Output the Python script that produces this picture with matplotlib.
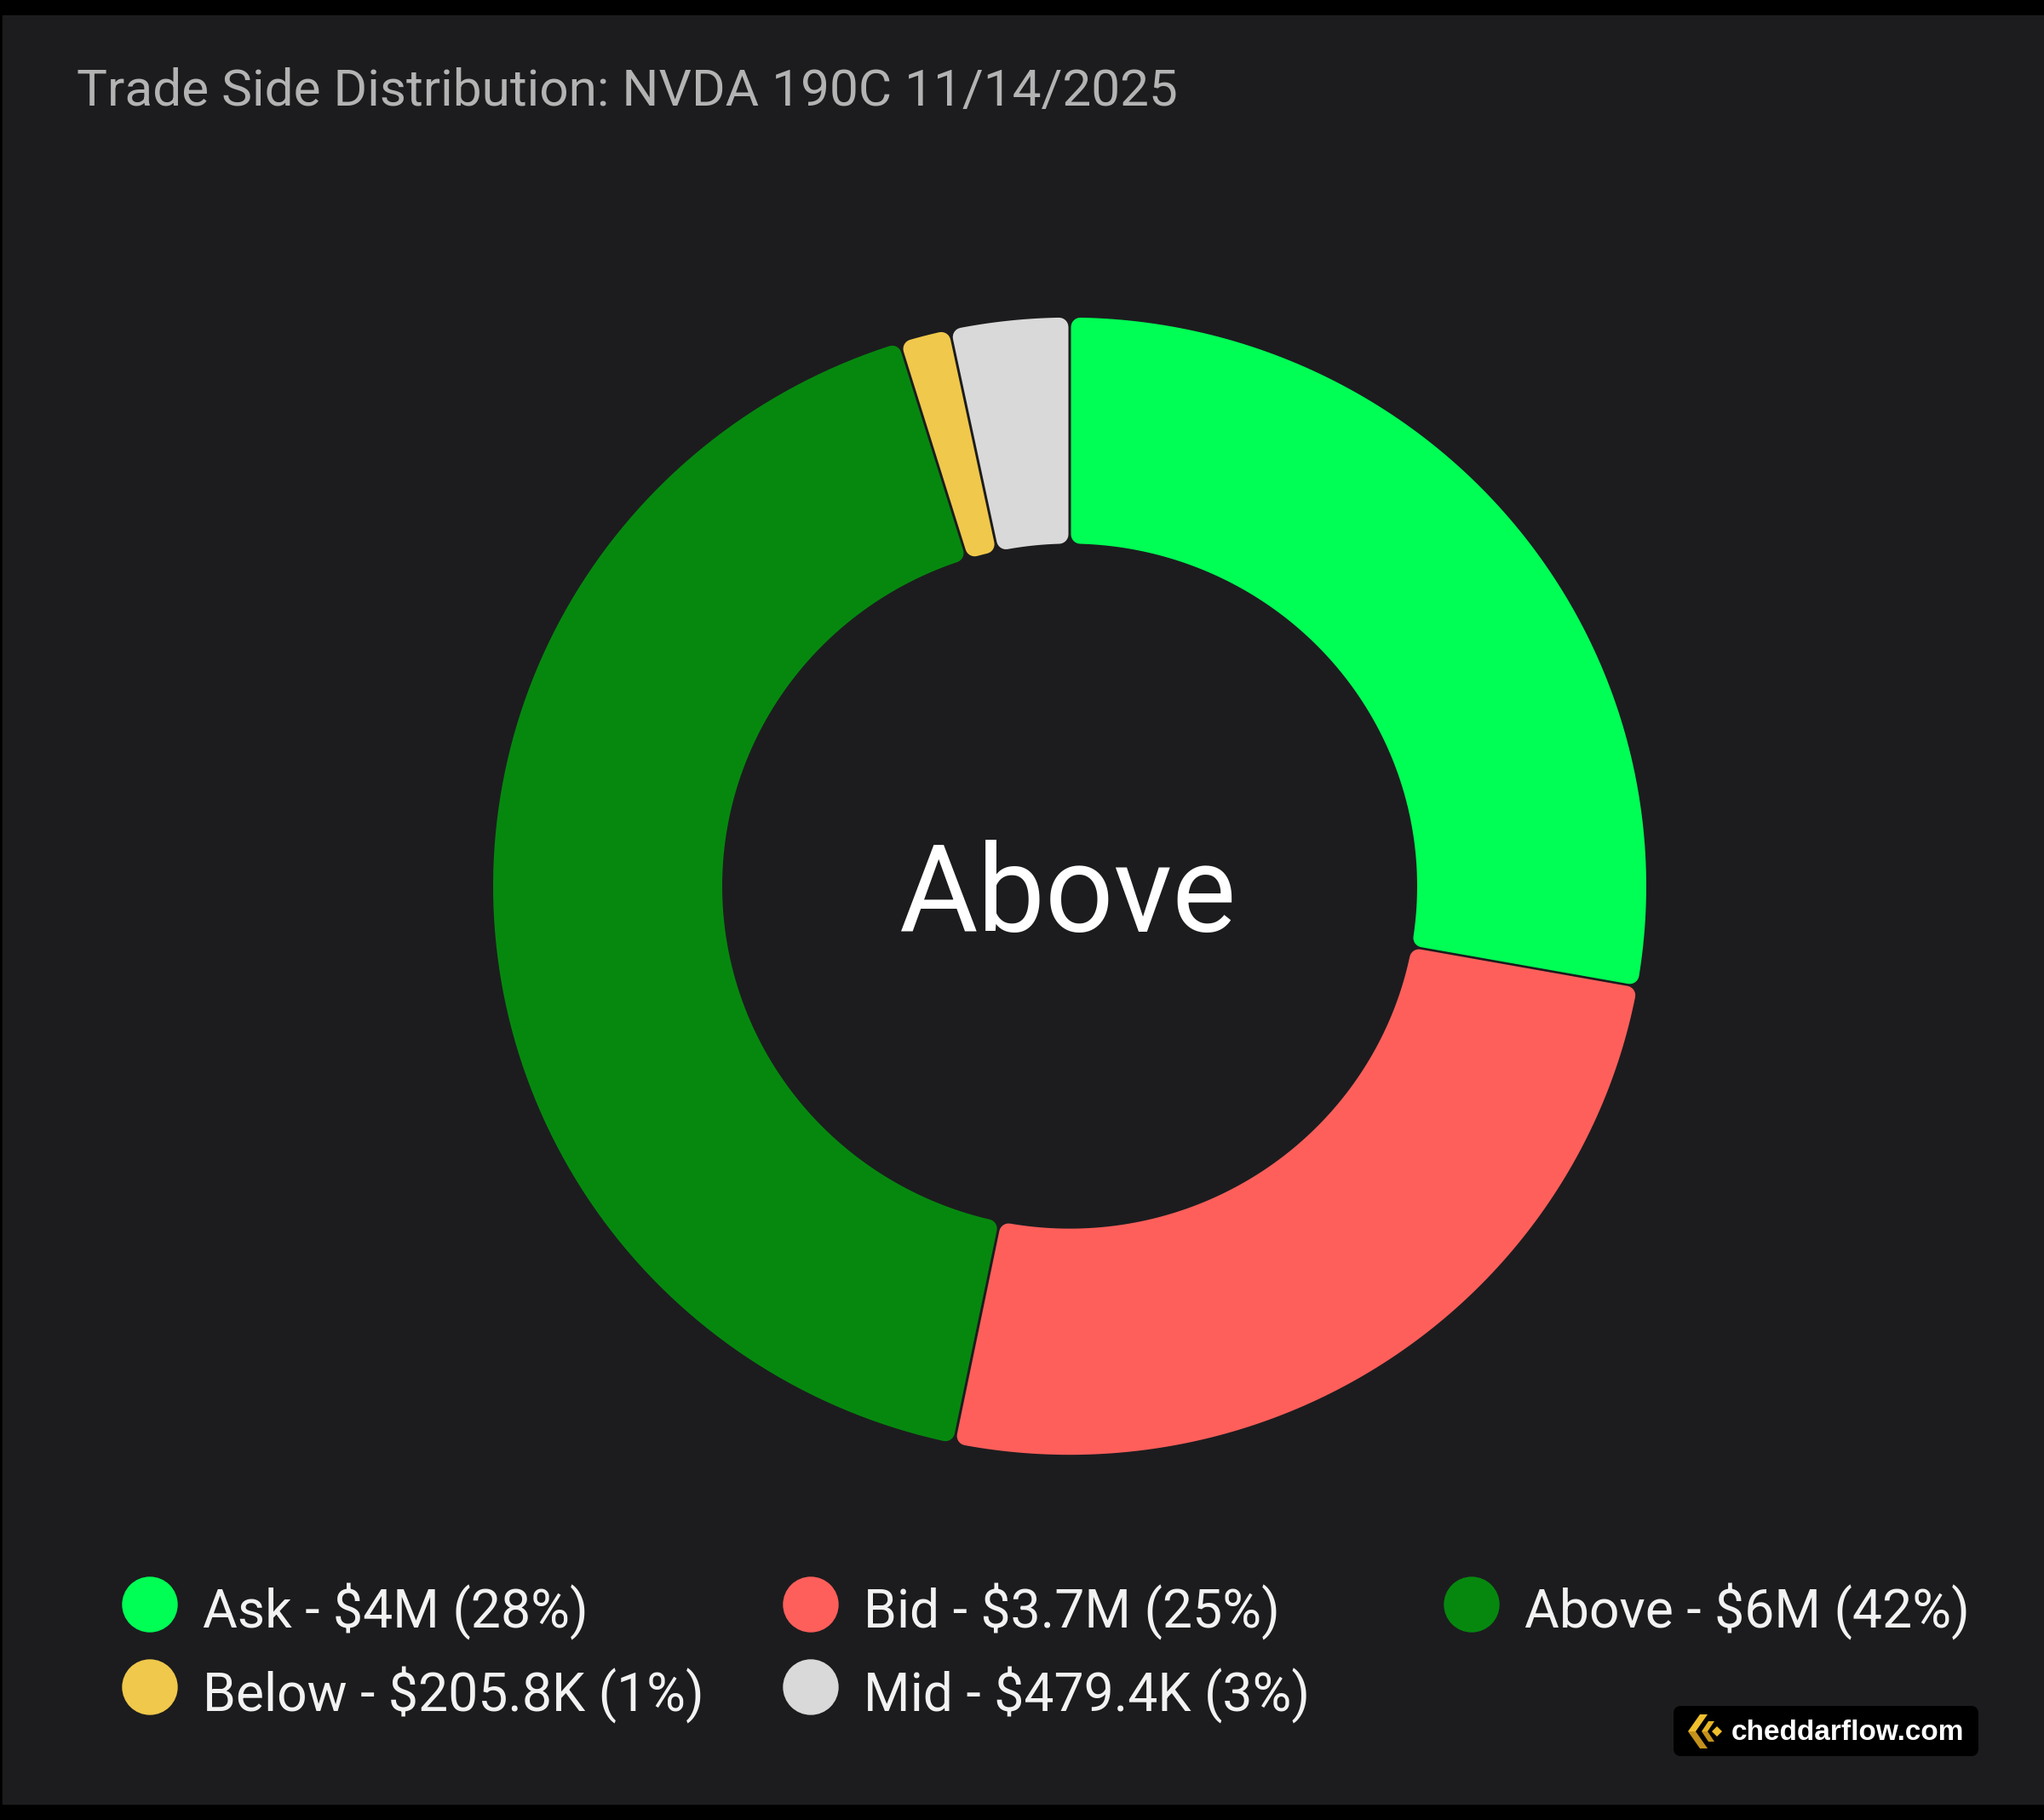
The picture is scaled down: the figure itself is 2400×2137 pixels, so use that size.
import numpy as np
import matplotlib
matplotlib.use('Agg')
import matplotlib.pyplot as plt
from matplotlib import font_manager
from matplotlib.patches import Polygon, Circle, FancyBboxPatch, Rectangle

labels = ['Ask', 'Bid', 'Above', 'Below', 'Mid']
values = [4.0, 3.65, 6.04, 0.2058, 0.4794]   # $M
amounts = ['$4M', '$3.7M', '$6M', '$205.8K', '$479.4K']
pcts = [28, 25, 42, 1, 3]
colors = ['#00ff55', '#ff5f5b', '#06880f', '#f0c84b', '#d9d9d9']
title = 'Trade Side Distribution: NVDA 190C 11/14/2025'
center_label = 'Above'
watermark = 'cheddarflow.com'

W, H = 2400, 2137
BG = '#1c1c1e'

installed = {f.name for f in font_manager.fontManager.ttflist}
if 'Liberation Sans Narrow' in installed:
    narrow, fs_title, fs_leg = 'Liberation Sans Narrow', 50, 50
else:
    narrow, fs_title, fs_leg = 'Roboto', 43.5, 45


def Y(y):
    # image row -> data y
    return H - y


fig = plt.figure(figsize=(W / 100, H / 100), dpi=100, facecolor='black')
ax = fig.add_axes([0, 0, 1, 1])

ax.add_patch(Rectangle((3, Y(2118)), W - 3, 2100, color=BG, zorder=0))

cx, cy = 1256, Y(1040.5)
r_out, r_in = 677, 408
sy = 0.986          # the screenshot is a touch squashed vertically
corner, gap = 11, 3

wedges, _ = ax.pie(values, startangle=90, counterclock=False, center=(cx, cy),
                   radius=r_out, wedgeprops=dict(width=r_out - r_in))


def rounded_segment(t1, t2, color):
    off = corner + gap / 2
    ro, ri = r_out - corner, r_in + corner
    d_o = np.degrees(np.arcsin(off / ro))
    d_i = np.degrees(np.arcsin(off / ri))
    to = np.radians(np.linspace(t1 + d_o, t2 - d_o, 120))
    ti = np.radians(np.linspace(t2 - d_i, t1 + d_i, 120))
    xs = np.concatenate([cx + ro * np.cos(to), cx + ri * np.cos(ti)])
    ys = np.concatenate([cy + sy * ro * np.sin(to), cy + sy * ri * np.sin(ti)])
    return Polygon(np.column_stack([xs, ys]), closed=True, fc=color, ec=color,
                   lw=2 * corner * 0.72, joinstyle='round', zorder=2)


for w, c in zip(wedges, colors):
    w.set_visible(False)
    ax.add_patch(rounded_segment(w.theta1, w.theta2, c))

ax.set_xlim(0, W)
ax.set_ylim(0, H)
ax.set_aspect('auto')
ax.axis('off')

ax.text(1254, Y(1094), center_label, ha='center', va='baseline', color='white',
        fontsize=102, family='Roboto')

ax.text(90, Y(124), title, ha='left', va='baseline', color='#b3b3b3',
        fontsize=fs_title, family=narrow)

# legend
leg_cols = [176, 952, 1728]
leg_rows = [1884, 1981]
base_off = 28
for i, (lab, amt, p, c) in enumerate(zip(labels, amounts, pcts, colors)):
    row, col = divmod(i, 3)
    x, y = leg_cols[col], leg_rows[row]
    ax.add_patch(Circle((x, Y(y)), 32, color=c, zorder=3))
    ax.text(x + 62, Y(y + base_off), f'{lab} - {amt} ({p}%)', ha='left', va='baseline',
            color='#f2f2f2', fontsize=fs_leg, family=narrow)

# watermark
ax.add_patch(FancyBboxPatch((1965, Y(2062)), 358, 59, boxstyle='round,pad=0,rounding_size=9',
                            fc='black', ec='none', zorder=3))
ax.add_patch(Polygon([(1996, Y(2013)), (2005, Y(2013)), (1991, Y(2033)), (1982, Y(2033))],
                     fc='#f0bf2c', ec='none', zorder=4))
ax.add_patch(Polygon([(1982, Y(2033)), (1991, Y(2033)), (2005, Y(2053)), (1996, Y(2053))],
                     fc='#c4921a', ec='none', zorder=4))
ax.add_patch(Polygon([(2006, Y(2021)), (2013, Y(2021)), (2005, Y(2033)), (1998, Y(2033))],
                     fc='#e6b526', ec='none', zorder=4))
ax.add_patch(Polygon([(1998, Y(2033)), (2005, Y(2033)), (2013, Y(2045)), (2006, Y(2045))],
                     fc='#c4921a', ec='none', zorder=4))
ax.add_patch(Polygon([(2016, Y(2027)), (2022, Y(2033)), (2016, Y(2039)), (2010, Y(2033))],
                     fc='#f0bf2c', ec='none', zorder=4))
ax.text(2033, Y(2043), watermark, ha='left', va='baseline', color='white',
        fontsize=24, fontweight='bold', family='Liberation Sans', zorder=5)

fig.savefig('out.png', dpi=100, facecolor=fig.get_facecolor())
